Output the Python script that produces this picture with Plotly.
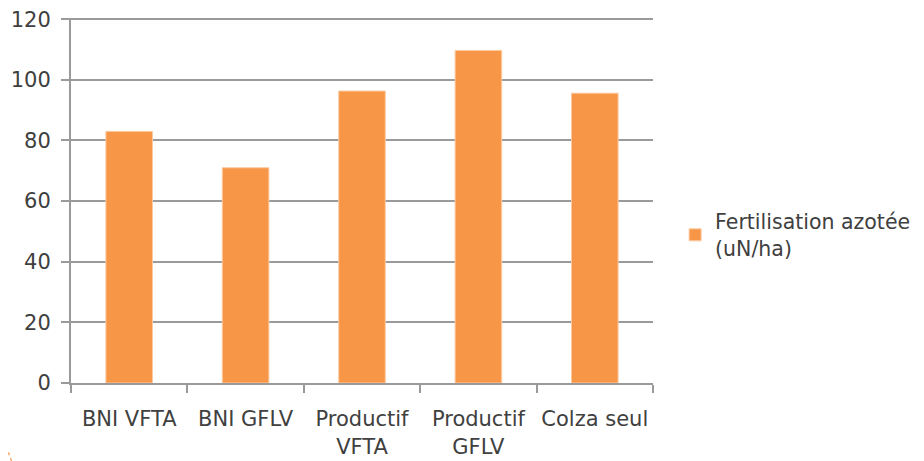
import plotly.graph_objects as go

categories = ["BNI VFTA", "BNI GFLV", "Productif<br>VFTA", "Productif<br>GFLV", "Colza seul"]
values = [83, 71, 96.3, 109.7, 95.6]
series_name = "Fertilisation azotée<br>(uN/ha)"
y_ticks = [0, 20, 40, 60, 80, 100, 120]

ORANGE = "#F79646"
GRID = "#9a9a9a"
TEXT = "#404040"
FONT = "DejaVu Sans"
FS = 21

fig = go.Figure()
fig.add_trace(go.Bar(
    x=categories, y=values, name=series_name,
    marker=dict(color=ORANGE, line=dict(color="#fbc9a0", width=1)),
    showlegend=True,
))

fig.update_layout(
    width=924, height=461,
    margin=dict(l=63, r=279, t=10, b=86, autoexpand=False),
    paper_bgcolor="white", plot_bgcolor="white",
    bargap=0.6,
    font=dict(family=FONT, size=FS, color=TEXT),
    showlegend=True,
    legend=dict(x=1.038, y=0.405, xanchor="left", yanchor="middle",
                font=dict(family=FONT, size=20.5, color=TEXT),
                itemwidth=30),
    shapes=[dict(type="line", xref="paper", yref="paper",
                 x0=-0.1075, y0=-0.19, x1=-0.102, y1=-0.215,
                 line=dict(color=ORANGE, width=1.2, dash="dot"))],
)
fig.update_xaxes(
    automargin=False, tickangle=0,
    showline=True, linecolor=GRID, linewidth=2,
    ticks="outside", tickson="boundaries", ticklen=8, tickcolor=GRID, tickwidth=2,
    ticklabelstandoff=16, ticklabeloverflow="allow",
    showgrid=False, tickfont=dict(size=FS, color=TEXT),
)
fig.update_yaxes(
    automargin=False,
    range=[0, 120.4], tickvals=y_ticks,
    showline=True, linecolor=GRID, linewidth=2,
    ticks="outside", ticklen=8, tickcolor=GRID, tickwidth=2,
    ticklabelstandoff=6, ticklabeloverflow="allow",
    showgrid=True, gridcolor=GRID, gridwidth=2,
    zeroline=False, tickfont=dict(size=FS, color=TEXT),
)

fig.write_html("out.html")
